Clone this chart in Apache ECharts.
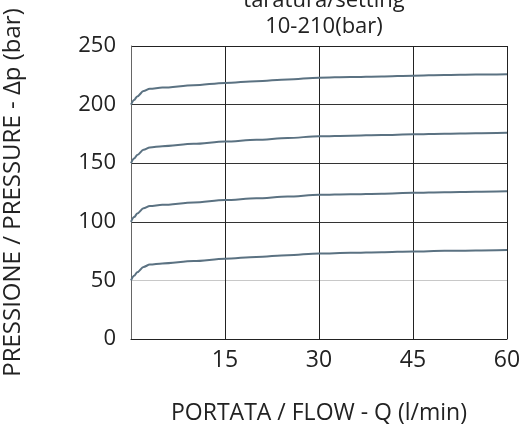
<!DOCTYPE html>
<html>
<head>
<meta charset="utf-8">
<script src="https://cdn.jsdelivr.net/npm/echarts@6/dist/echarts.min.js"></script>
<style>
  html, body { margin: 0; padding: 0; background: #fff; }
  #chart { width: 523px; height: 427px; }
</style>
</head>
<body>
<div id="chart"></div>
<script>
// portata Q (l/min)
var flow = [0, 0.5, 1, 2, 3, 5, 10, 15, 20, 25, 30, 35, 40, 45, 50, 55, 60];
// pressione (bar) per ogni taratura
var p50 = [50, 54, 57, 61.5, 63.5, 64.5, 66.5, 68.5, 70, 71.5, 73, 73.5, 74, 74.7, 75.2, 75.6, 76];
var p100 = [100, 104, 107, 111.5, 113.5, 114.5, 116.5, 118.5, 120, 121.5, 123, 123.5, 124, 124.7, 125.2, 125.6, 126];
var p150 = [150, 154, 157, 161.5, 163.5, 164.5, 166.5, 168.5, 170, 171.5, 173, 173.5, 174, 174.7, 175.2, 175.6, 176];
var p200 = [200, 204, 207, 211.5, 213.5, 214.5, 216.5, 218.5, 220, 221.5, 223, 223.5, 224, 224.7, 225.2, 225.6, 226];
var xTicks = [15, 30, 45, 60];
var yTicks = [0, 50, 100, 150, 200, 250];

var myChart = echarts.init(document.getElementById("chart"));

var toPoints = function (arr) {
  var res = [];
  for (var i = 0; i < flow.length; i++) {
    res.push([flow[i], arr[i]]);
  }
  return res;
};

var series = [];
[p50, p100, p150, p200].forEach(function (item) {
  series.push({
    type: "line",
    data: toPoints(item),
    showSymbol: false,
    smooth: 0.3,
    smoothMonotone: "x",
    lineStyle: { color: "#5b7282", width: 2 },
    z: 3,
  });
});

var option = {
  animation: false,
  textStyle: { fontFamily: "Open Sans" },
  title: {
    text: "taratura/setting\n10-210(bar)",
    left: 319,
    top: -17,
    textAlign: "center",
    textStyle: {
      fontFamily: "Open Sans",
      fontSize: 22,
      fontWeight: "normal",
      color: "#222",
      lineHeight: 26,
    },
  },
  grid: { left: 131, right: 16, top: 46, bottom: 88, outerBoundsMode: "none" },
  xAxis: {
    type: "value",
    min: 0,
    max: 60,
    interval: 15,
    name: "PORTATA / FLOW - Q (l/min)",
    nameLocation: "middle",
    nameGap: 63,
    nameTextStyle: { fontSize: 23, color: "#222", fontFamily: "Open Sans" },
    axisLine: { show: true, lineStyle: { color: "#222", width: 1 } },
    axisTick: { show: false },
    axisLabel: {
      fontSize: 23,
      color: "#222",
      margin: 10,
      formatter: function (v) {
        return xTicks.indexOf(v) >= 0 ? String(v) : "";
      },
    },
    splitLine: { show: true, lineStyle: { color: "#222", width: 1 } },
  },
  yAxis: {
    type: "value",
    min: 0,
    max: 250,
    interval: 50,
    name: "PRESSIONE / PRESSURE - Δp (bar)",
    nameLocation: "middle",
    nameGap: 106,
    nameTextStyle: { fontSize: 24, color: "#222", fontFamily: "Open Sans" },
    axisLine: { show: true, lineStyle: { color: "#666", width: 1 } },
    axisTick: { show: false },
    axisLabel: {
      fontSize: 22,
      color: "#222",
      margin: 15,
      formatter: function (v) {
        return yTicks.indexOf(v) >= 0 ? String(v) : "";
      },
    },
    splitLine: {
      show: true,
      lineStyle: {
        color: ["#222", "#c8c8c8", "#333", "#333", "#333", "#222"],
        width: 1,
      },
    },
  },
  series: series,
};
myChart.setOption(option);
</script>
</body>
</html>
